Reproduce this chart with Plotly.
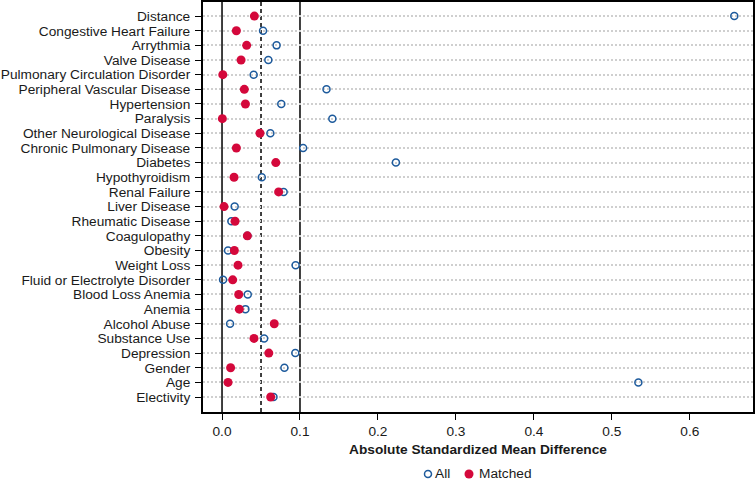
import plotly.graph_objects as go

# top-to-bottom order
categories = [
    "Distance", "Congestive Heart Failure", "Arrythmia", "Valve Disease",
    "Pulmonary Circulation Disorder", "Peripheral Vascular Disease", "Hypertension",
    "Paralysis", "Other Neurological Disease", "Chronic Pulmonary Disease", "Diabetes",
    "Hypothyroidism", "Renal Failure", "Liver Disease", "Rheumatic Disease",
    "Coagulopathy", "Obesity", "Weight Loss", "Fluid or Electrolyte Disorder",
    "Blood Loss Anemia", "Anemia", "Alcohol Abuse", "Substance Use", "Depression",
    "Gender", "Age", "Electivity",
]
all_values = [
    0.657, 0.0526, 0.070, 0.0594, 0.0406, 0.134, 0.076, 0.1415, 0.062, 0.104,
    0.223, 0.051, 0.079, 0.0162, 0.012, 0.0325, 0.0077, 0.0944, 0.0013, 0.033,
    0.030, 0.0103, 0.054, 0.094, 0.080, 0.534, 0.066,
]
matched_values = [
    0.0415, 0.0184, 0.0316, 0.0244, 0.001, 0.0286, 0.030, 0.0004, 0.0487, 0.0184,
    0.069, 0.0154, 0.0726, 0.0026, 0.0167, 0.0325, 0.0158, 0.0205, 0.0137, 0.0214,
    0.0222, 0.067, 0.041, 0.060, 0.011, 0.0077, 0.0624,
]
x_ticks = [0.0, 0.1, 0.2, 0.3, 0.4, 0.5, 0.6]
x_tick_labels = ["0.0", "0.1", "0.2", "0.3", "0.4", "0.5", "0.6"]
ref_lines = [0.0, 0.05, 0.1]
ref_dash = ["solid", "4px,3px", "solid"]
series_names = ["All", "Matched"]

BLUE = "#1d5a9c"
RED = "#d4083b"
FS = 13.7

n = len(categories)
ypos = [n - 1 - i for i in range(n)]

fig = go.Figure()
fig.add_trace(go.Scatter(
    x=all_values, y=ypos, mode="markers", name=series_names[0],
    marker=dict(symbol="circle-open", size=7, color=BLUE, line=dict(width=1.5, color=BLUE)),
))
fig.add_trace(go.Scatter(
    x=matched_values, y=ypos, mode="markers", name=series_names[1],
    marker=dict(symbol="circle", size=9, color=RED),
))

for xv, d in zip(ref_lines, ref_dash):
    fig.add_shape(type="line", xref="x", yref="paper", x0=xv, x1=xv, y0=0, y1=1,
                  line=dict(color="black", width=1.5, dash=d), layer="between")

# legend drawn below the axis title
L, R, T, B = 203, 2, 2, 70
W, H = 755, 482
pw, ph = W - L - R, H - T - B
def px(xp): return (xp - L) / pw
def py(yp): return (H - B - yp) / ph

leg_y = 474
fig.add_shape(type="circle", xref="paper", yref="paper", xsizemode="pixel", ysizemode="pixel",
              xanchor=px(428), yanchor=py(leg_y), x0=-3.5, x1=3.5, y0=-3.5, y1=3.5,
              line=dict(color=BLUE, width=1.5), fillcolor="white")
fig.add_annotation(xref="paper", yref="paper", x=px(433), y=py(leg_y), xanchor="left", yanchor="middle",
                   text=series_names[0], showarrow=False, font=dict(size=FS))
fig.add_shape(type="circle", xref="paper", yref="paper", xsizemode="pixel", ysizemode="pixel",
              xanchor=px(469), yanchor=py(leg_y), x0=-4.5, x1=4.5, y0=-4.5, y1=4.5,
              line=dict(color=RED, width=0), fillcolor=RED)
fig.add_annotation(xref="paper", yref="paper", x=px(477), y=py(leg_y), xanchor="left", yanchor="middle",
                   text=series_names[1], showarrow=False, font=dict(size=FS))

fig.update_layout(
    width=W, height=H,
    margin=dict(l=L, r=R, t=T, b=B, autoexpand=False),
    paper_bgcolor="white", plot_bgcolor="white",
    font=dict(family="Liberation Sans, Arial, sans-serif", size=FS, color="#1a1a1a"),
    showlegend=False,
)
fig.update_xaxes(
    range=[-0.0244, 0.681], tickvals=x_ticks, ticktext=x_tick_labels,
    showgrid=False, zeroline=False, showline=True, linecolor="black", linewidth=2,
    mirror=True, ticks="outside", ticklen=6, tickcolor="black",
    title=dict(text="<b>Absolute Standardized Mean Difference</b>", font=dict(size=FS), standoff=6),
    tickfont=dict(size=FS), automargin=False,
)
fig.update_yaxes(
    range=[-1.02, n - 1 + 0.96], tickvals=ypos, ticktext=categories,
    showgrid=True, gridcolor="#cfcfcf", griddash="2px,2px", gridwidth=1.5,
    zeroline=False, showline=True, linecolor="black", linewidth=2, mirror=True,
    ticks="outside", ticklen=6, tickcolor="black", tickfont=dict(size=FS),
    ticklabelstandoff=2, automargin=False,
)

fig.write_html("out.html", config={"displayModeBar": False},
               post_script="document.body.style.margin='0';")
